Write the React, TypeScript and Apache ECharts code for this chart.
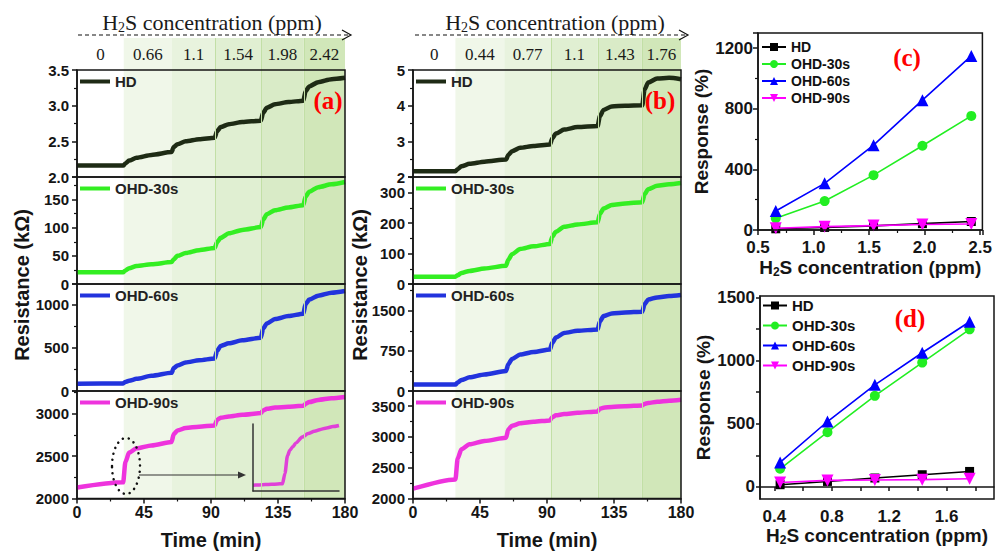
import React, { useEffect, useRef } from 'react';
import * as echarts from 'echarts';

// ---------------- Data ----------------
// Panel (a): resistance vs time
const timeA = [0, 31, 32.5, 35, 40, 50, 63.5, 65, 67.5, 73, 82, 92.5, 94, 96.5, 102, 111, 123.5, 125, 127.5, 133, 142, 152, 153.5, 156, 162, 171, 180];
const hdA = [2.16, 2.16, 2.19, 2.23, 2.27, 2.31, 2.35, 2.42, 2.46, 2.5, 2.53, 2.55, 2.64, 2.7, 2.74, 2.77, 2.79, 2.9, 2.97, 3.02, 3.05, 3.07, 3.2, 3.27, 3.33, 3.37, 3.39];
const ohd30A = [21, 21, 24, 28, 32, 35, 39, 44, 50, 55, 60, 64, 74, 82, 90, 96, 101, 114, 124, 131, 136, 140, 155, 164, 172, 177, 181];
const ohd60A = [85, 87, 105, 118, 140, 175, 210, 265, 295, 330, 355, 375, 460, 520, 550, 585, 616, 720, 780, 830, 865, 893, 1000, 1055, 1100, 1135, 1155];
const ohd90A = [2130, 2190, 2430, 2540, 2590, 2625, 2665, 2760, 2800, 2830, 2845, 2860, 2925, 2950, 2965, 2985, 3005, 3035, 3055, 3070, 3080, 3090, 3115, 3135, 3160, 3180, 3195];
const bandEdgesA = [0, 31.4, 63.8, 92.7, 123.6, 152.3, 180];
const concLabelsA = ['0', '0.66', '1.1', '1.54', '1.98', '2.42'];

// inset of panel (a), OHD-90s around first exposure
const insetTime = [26, 27, 28, 29, 30, 30.8, 31.2, 31.6, 32, 32.5, 33, 34, 35, 36, 37, 38, 39, 40];
const insetValue = [2180, 2182, 2184, 2186, 2188, 2190, 2260, 2380, 2420, 2445, 2470, 2510, 2535, 2550, 2563, 2573, 2582, 2590];

// Panel (b)
const timeB = [0, 28.5, 30, 32.5, 38, 48, 62.5, 64, 66.5, 72, 81, 92, 93.5, 96, 101.5, 110.5, 124, 125.5, 128, 133.5, 142.5, 154, 155.5, 158, 164, 172, 180];
const hdB = [2.16, 2.16, 2.22, 2.3, 2.37, 2.43, 2.49, 2.62, 2.72, 2.82, 2.87, 2.91, 3.08, 3.22, 3.33, 3.4, 3.43, 3.7, 3.88, 3.98, 4.0, 4.01, 4.45, 4.65, 4.76, 4.78, 4.74];
const ohd30B = [24, 24, 29, 36, 43, 51, 60, 80, 98, 115, 124, 132, 155, 172, 188, 196, 203, 230, 248, 260, 265, 269, 295, 312, 323, 328, 332];
const ohd60B = [120, 120, 160, 205, 255, 310, 375, 500, 600, 680, 730, 776, 900, 1000, 1085, 1125, 1151, 1300, 1400, 1450, 1468, 1481, 1620, 1710, 1750, 1775, 1795];
const ohd90B = [2160, 2310, 2650, 2800, 2880, 2935, 2985, 3120, 3180, 3220, 3245, 3268, 3320, 3350, 3370, 3390, 3414, 3455, 3475, 3485, 3498, 3511, 3535, 3550, 3570, 3588, 3603];
const bandEdgesB = [0, 28.5, 61.3, 92.7, 124.1, 153.7, 180];
const concLabelsB = ['0', '0.44', '0.77', '1.1', '1.43', '1.76'];

// Panel (c)
const concC = [0.66, 1.1, 1.54, 1.98, 2.42];
const respHdC = [8, 17, 27, 42, 56];
const resp30C = [77, 191, 362, 556, 753];
const resp60C = [125, 308, 560, 857, 1149];
const resp90C = [12, 22, 29, 36, 40];

// Panel (d)
const concD = [0.44, 0.77, 1.1, 1.43, 1.76];
const respHdD = [18, 44, 71, 97, 123];
const resp30D = [144, 434, 721, 984, 1247];
const resp60D = [194, 518, 808, 1062, 1307];
const resp90D = [36, 52, 55, 58, 65];

const sampleNames = ['HD', 'OHD-30s', 'OHD-60s', 'OHD-90s'];
const xTicksD = [0.4, 0.8, 1.2, 1.6];
const xMinorTicksD = [0.4, 0.6, 0.8, 1.0, 1.2, 1.4, 1.6, 1.8];
const yTicksD = [0, 500, 1000, 1500];
const yMinorTicksD = [0, 250, 500, 750, 1000, 1250, 1500];

// ---------------- Styles ----------------
const SANS = 'Arial, "Liberation Sans", sans-serif';
const SERIF = '"Times New Roman", "Liberation Serif", serif';
const INK = '#151515';
const CURVE_COLORS = ['#1e2b15', '#33ee22', '#2233dd', '#ee33dd'];
const DOT_COLORS = ['#000000', '#22ee22', '#0000ff', '#ff00ff'];
const BAND_COLORS = ['rgba(255,255,255,0)', '#f0f7e9', '#e8f3de', '#e0efd2', '#d9ebc7', '#d1e7b9'];
const SUB_TOPS = [70, 177, 284, 391];
const SUB_H = [107, 107, 107, 107.5];

const stripName = (n: string) => n.split('|')[0];

type YSpec = { min: number; max: number; interval: number; decimals: number };
const ySpecA: YSpec[] = [
  { min: 2, max: 3.5, interval: 0.5, decimals: 1 },
  { min: 0, max: 190, interval: 50, decimals: 0 },
  { min: 0, max: 1235, interval: 500, decimals: 0 },
  { min: 2000, max: 3265, interval: 500, decimals: 0 },
];
const ySpecB: YSpec[] = [
  { min: 2, max: 5, interval: 1, decimals: 0 },
  { min: 0, max: 352, interval: 100, decimals: 0 },
  { min: 0, max: 2000, interval: 750, decimals: 0 },
  { min: 2000, max: 3745, interval: 500, decimals: 0 },
];

const tickLabel = { fontFamily: SANS, fontWeight: 'bold', fontSize: 15, color: INK };
const axisLineStyle = { color: INK, width: 1.5 };

function bandSeries(gi: number, ymin: number, edges: number[], concs: string[], withLabels: boolean) {
  return {
    type: 'line',
    xAxisIndex: gi,
    yAxisIndex: gi,
    data: [[0, ymin]],
    symbol: 'none',
    silent: true,
    z: 1,
    lineStyle: { width: 0 },
    markArea: {
      silent: true,
      label: withLabels
        ? { show: true, position: 'inside', color: '#1a1a1a', fontFamily: SERIF, fontSize: 17 }
        : { show: false },
      data: concs.map((c, k) => [
        { name: c, xAxis: edges[k], itemStyle: { color: BAND_COLORS[k] } },
        { xAxis: edges[k + 1] },
      ]),
    },
    markLine: {
      silent: true,
      symbol: ['none', 'none'],
      label: { show: false },
      lineStyle: { color: '#c2dfa6', width: 1, type: 'solid' },
      data: edges.slice(3, 6).map((e) => ({ xAxis: e })),
    },
  };
}

function addTimePanel(
  opt: any,
  key: string,
  left: number,
  width: number,
  time: number[],
  curves: number[][],
  edges: number[],
  concs: string[],
  ySpecs: YSpec[],
) {
  // strip above the plot with the concentrations
  let gi = opt.grid.length;
  opt.grid.push({ left, top: 38, width, height: 32, show: false });
  opt.xAxis.push({ gridIndex: gi, type: 'value', min: 0, max: 180, show: false });
  opt.yAxis.push({ gridIndex: gi, type: 'value', min: 0, max: 1, show: false });
  opt.series.push(bandSeries(gi, 0, edges, concs, true));

  for (let i = 0; i < 4; i++) {
    gi = opt.grid.length;
    const spec = ySpecs[i];
    const bottom = i === 3;
    opt.grid.push({
      left,
      top: SUB_TOPS[i],
      width,
      height: SUB_H[i],
      show: true,
      borderColor: INK,
      borderWidth: 1.5,
      backgroundColor: 'transparent',
      z: 10,
    });
    opt.xAxis.push({
      gridIndex: gi,
      type: 'value',
      min: 0,
      max: 180,
      interval: 45,
      show: bottom,
      axisLine: { show: true, lineStyle: axisLineStyle },
      axisTick: { show: true, length: 5, lineStyle: axisLineStyle },
      minorTick: { show: true, splitNumber: 2, length: 3, lineStyle: { color: INK, width: 1.2 } },
      axisLabel: { ...tickLabel, fontSize: 16, margin: 6 },
      splitLine: { show: false },
      name: bottom ? 'Time (min)' : '',
      nameLocation: 'middle',
      nameGap: 31,
      nameTextStyle: { fontFamily: SANS, fontWeight: 'bold', fontSize: 20, color: INK },
    });
    opt.yAxis.push({
      gridIndex: gi,
      type: 'value',
      min: spec.min,
      max: spec.max,
      interval: spec.interval,
      axisLine: { show: true, lineStyle: axisLineStyle },
      axisTick: { show: true, length: 5, lineStyle: axisLineStyle },
      minorTick: { show: true, splitNumber: 2, length: 3, lineStyle: { color: INK, width: 1.2 } },
      axisLabel: {
        ...tickLabel,
        showMaxLabel: i === 0,
        formatter: (v: number) => v.toFixed(spec.decimals),
      },
      splitLine: { show: false },
    });
    opt.series.push(bandSeries(gi, spec.min, edges, concs, false));
    const sName = `${sampleNames[i]}|${key}`;
    opt.series.push({
      type: 'line',
      name: sName,
      xAxisIndex: gi,
      yAxisIndex: gi,
      data: time.map((t, k) => [t, curves[i][k]]),
      showSymbol: false,
      symbol: 'rect',
      smooth: 0.25,
      smoothMonotone: 'x',
      z: 3,
      lineStyle: { width: 4.5, color: CURVE_COLORS[i] },
      itemStyle: { color: CURVE_COLORS[i] },
    });
    opt.legend.push({
      data: [sName],
      left: left + 3,
      top: SUB_TOPS[i] + 4,
      padding: 0,
      icon: 'rect',
      itemWidth: 30,
      itemHeight: 4,
      selectedMode: false,
      formatter: stripName,
      textStyle: { fontFamily: SANS, fontWeight: 'bold', fontSize: 15, color: '#222' },
    });
  }
}

function addResponsePanel(
  opt: any,
  key: string,
  grid: any,
  xAxis: any,
  yAxis: any,
  conc: number[],
  resp: number[][],
  legendPos: any,
) {
  const gi = opt.grid.length;
  opt.grid.push({ ...grid, show: true, borderColor: INK, borderWidth: 1.5, backgroundColor: 'transparent', z: 10 });
  const nameRich = {
    n: { fontFamily: SANS, fontWeight: 'bold', fontSize: 19, color: INK, lineHeight: 22, verticalAlign: 'middle' },
    s: { fontFamily: SANS, fontWeight: 'bold', fontSize: 12, color: INK, verticalAlign: 'bottom' },
  };
  opt.xAxis.push({
    gridIndex: gi,
    type: 'value',
    axisLine: { show: true, lineStyle: axisLineStyle },
    axisTick: { show: true, length: 5, lineStyle: axisLineStyle },
    splitLine: { show: false },
    nameLocation: 'middle',
    name: '{n|H}{s|2}{n|S concentration (ppm)}',
    nameTextStyle: { rich: nameRich },
    ...xAxis,
    axisLabel: { ...tickLabel, fontSize: 17, margin: 9, formatter: (v: number) => v.toFixed(1), ...(xAxis.axisLabel || {}) },
  });
  opt.yAxis.push({
    gridIndex: gi,
    type: 'value',
    axisLine: { show: true, lineStyle: axisLineStyle },
    axisTick: { show: true, length: 5, lineStyle: axisLineStyle },
    splitLine: { show: false },
    name: 'Response (%)',
    nameLocation: 'middle',
    nameTextStyle: { fontFamily: SANS, fontWeight: 'bold', fontSize: 19, color: INK },
    ...yAxis,
    axisLabel: { ...tickLabel, fontSize: 17, margin: 5, formatter: (v: number) => String(v), ...(yAxis.axisLabel || {}) },
  });
  const symbols = ['rect', 'circle', 'triangle', 'triangle'];
  const sizes = [9, 10, 12, 12];
  const rots = [0, 0, 0, 180];
  const names: string[] = [];
  for (let i = 0; i < 4; i++) {
    const sName = `${sampleNames[i]}|${key}`;
    names.push(sName);
    opt.series.push({
      type: 'line',
      name: sName,
      xAxisIndex: gi,
      yAxisIndex: gi,
      data: conc.map((c, k) => [c, resp[i][k]]),
      symbol: symbols[i],
      symbolSize: sizes[i],
      symbolRotate: rots[i],
      z: 3 + i,
      lineStyle: { width: 1.6, color: DOT_COLORS[i] },
      itemStyle: { color: DOT_COLORS[i] },
    });
  }
  opt.legend.push({
    data: names,
    orient: 'vertical',
    padding: 0,
    itemWidth: 24,
    itemHeight: 10,
    selectedMode: false,
    formatter: stripName,
    textStyle: { fontFamily: SANS, fontWeight: 'bold', fontSize: legendPos.fontSize, color: '#111' },
    left: legendPos.left,
    top: legendPos.top,
    itemGap: legendPos.itemGap,
  });
}

function buildOption() {
  const opt: any = {
    animation: false,
    backgroundColor: '#ffffff',
    grid: [],
    xAxis: [],
    yAxis: [],
    series: [],
    legend: [],
    graphic: [],
  };

  addTimePanel(opt, 'a', 77, 268, timeA, [hdA, ohd30A, ohd60A, ohd90A], bandEdgesA, concLabelsA, ySpecA);

  // inset in panel (a)
  const ig = opt.grid.length;
  opt.grid.push({ left: 253, top: 424, width: 86, height: 67, show: false });
  opt.xAxis.push({
    gridIndex: ig, type: 'value', min: 26, max: 40, z: 6,
    axisLine: { show: true, lineStyle: { color: '#333', width: 1.5 } },
    axisTick: { show: false }, axisLabel: { show: false }, splitLine: { show: false },
  });
  opt.yAxis.push({
    gridIndex: ig, type: 'value', min: 2140, max: 2600, z: 6,
    axisLine: { show: true, lineStyle: { color: '#333', width: 1.5 } },
    axisTick: { show: false }, axisLabel: { show: false }, splitLine: { show: false },
  });
  opt.series.push({
    type: 'line', xAxisIndex: ig, yAxisIndex: ig, z: 4,
    data: insetTime.map((t, k) => [t, insetValue[k]]),
    showSymbol: false, smooth: 0.25, smoothMonotone: 'x',
    lineStyle: { width: 3.5, color: '#e040d8' },
  });

  addTimePanel(opt, 'b', 413, 268, timeB, [hdB, ohd30B, ohd60B, ohd90B], bandEdgesB, concLabelsB, ySpecB);

  addResponsePanel(
    opt, 'c',
    { left: 758, top: 33, width: 236, height: 197 },
    { min: 0.5, max: 2.52, interval: 0.5, nameGap: 26, minorTick: { show: true, splitNumber: 2, length: 3, lineStyle: { color: INK, width: 1.2 } }, axisLabel: { showMaxLabel: false } },
    { min: 0, max: 1300, interval: 400, nameGap: 33, minorTick: { show: true, splitNumber: 2, length: 3, lineStyle: { color: INK, width: 1.2 } }, axisLabel: { showMaxLabel: false } },
    concC,
    [respHdC, resp30C, resp60C, resp90C],
    { left: 761, top: 40, itemGap: 3, fontSize: 14 },
  );

  addResponsePanel(
    opt, 'd',
    { left: 760, top: 296, width: 234, height: 203 },
    { min: 0.3, max: 1.93, nameGap: 25, axisLabel: { customValues: xTicksD }, axisTick: { show: true, length: 4, lineStyle: axisLineStyle, customValues: xMinorTicksD } },
    { min: -95, max: 1511, nameGap: 36, axisLabel: { customValues: yTicksD }, axisTick: { show: true, length: 4, lineStyle: axisLineStyle, customValues: yMinorTicksD } },
    concD,
    [respHdD, resp30D, resp60D, resp90D],
    { left: 762, top: 298, itemGap: 5, fontSize: 15 },
  );

  const titleRich = {
    n: { fontFamily: SERIF, fontSize: 22, fill: '#1a1a1a', color: '#1a1a1a', lineHeight: 24, verticalAlign: 'middle' },
    s: { fontFamily: SERIF, fontSize: 14, fill: '#1a1a1a', color: '#1a1a1a', verticalAlign: 'bottom' },
  };
  const titleText = '{n|H}{s|2}{n|S concentration (ppm)}';
  const panelTitle = (cx: number) => ({
    type: 'text', x: cx, y: 10, z: 50,
    style: { text: titleText, rich: titleRich, align: 'center', textAlign: 'center', verticalAlign: 'top', textVerticalAlign: 'top' },
  });
  const dashedArrow = (x1: number, x2: number) => [
    { type: 'line', z: 50, shape: { x1, y1: 35, x2, y2: 35 }, style: { stroke: '#111', lineWidth: 1.2, lineDash: [4, 3] } },
    { type: 'polyline', z: 50, shape: { points: [[x2 - 8, 30], [x2 + 1, 35], [x2 - 8, 40]] }, style: { stroke: '#111', lineWidth: 1.2, fill: 'none' } },
  ];
  const panelLabel = (text: string, x: number, y: number) => ({
    type: 'text', x, y, z: 50,
    style: {
      text, fill: '#ff0000', font: `bold 25px ${SERIF}`,
      align: 'center', textAlign: 'center', verticalAlign: 'middle', textVerticalAlign: 'middle',
    },
  });
  const yName = (x: number) => ({
    type: 'text', x, y: 285, rotation: Math.PI / 2, z: 50,
    style: {
      text: 'Resistance (kΩ)', fill: INK, font: `bold 20px ${SANS}`,
      align: 'center', textAlign: 'center', verticalAlign: 'middle', textVerticalAlign: 'middle',
    },
  });

  opt.graphic = [
    panelTitle(212),
    panelTitle(555),
    ...dashedArrow(78, 350),
    ...dashedArrow(415, 687),
    panelLabel('(a)', 328, 100),
    panelLabel('(b)', 660, 100),
    panelLabel('(c)', 907, 57),
    panelLabel('(d)', 910, 318),
    yName(22),
    yName(360),
    {
      type: 'ellipse', z: 50,
      shape: { cx: 126, cy: 466, rx: 14, ry: 28 },
      style: { fill: 'none', stroke: '#111', lineWidth: 2.5, lineDash: [0.1, 6], lineCap: 'round' },
    },
    { type: 'line', z: 50, shape: { x1: 139, y1: 475, x2: 240, y2: 475 }, style: { stroke: '#333', lineWidth: 1.2 } },
    { type: 'polygon', z: 50, shape: { points: [[238, 471.5], [246, 475], [238, 478.5]] }, style: { fill: '#333' } },
  ];

  return opt;
}

export default function App() {
  const ref = useRef<HTMLDivElement>(null);
  useEffect(() => {
    if (!ref.current) return;
    const chart = echarts.init(ref.current, null, { renderer: 'svg' });
    chart.setOption(buildOption());
    return () => chart.dispose();
  }, []);
  return (
    <div
      ref={ref}
      style={{ position: 'fixed', left: 0, top: 0, width: 995, height: 553, background: '#fff' }}
    />
  );
}
